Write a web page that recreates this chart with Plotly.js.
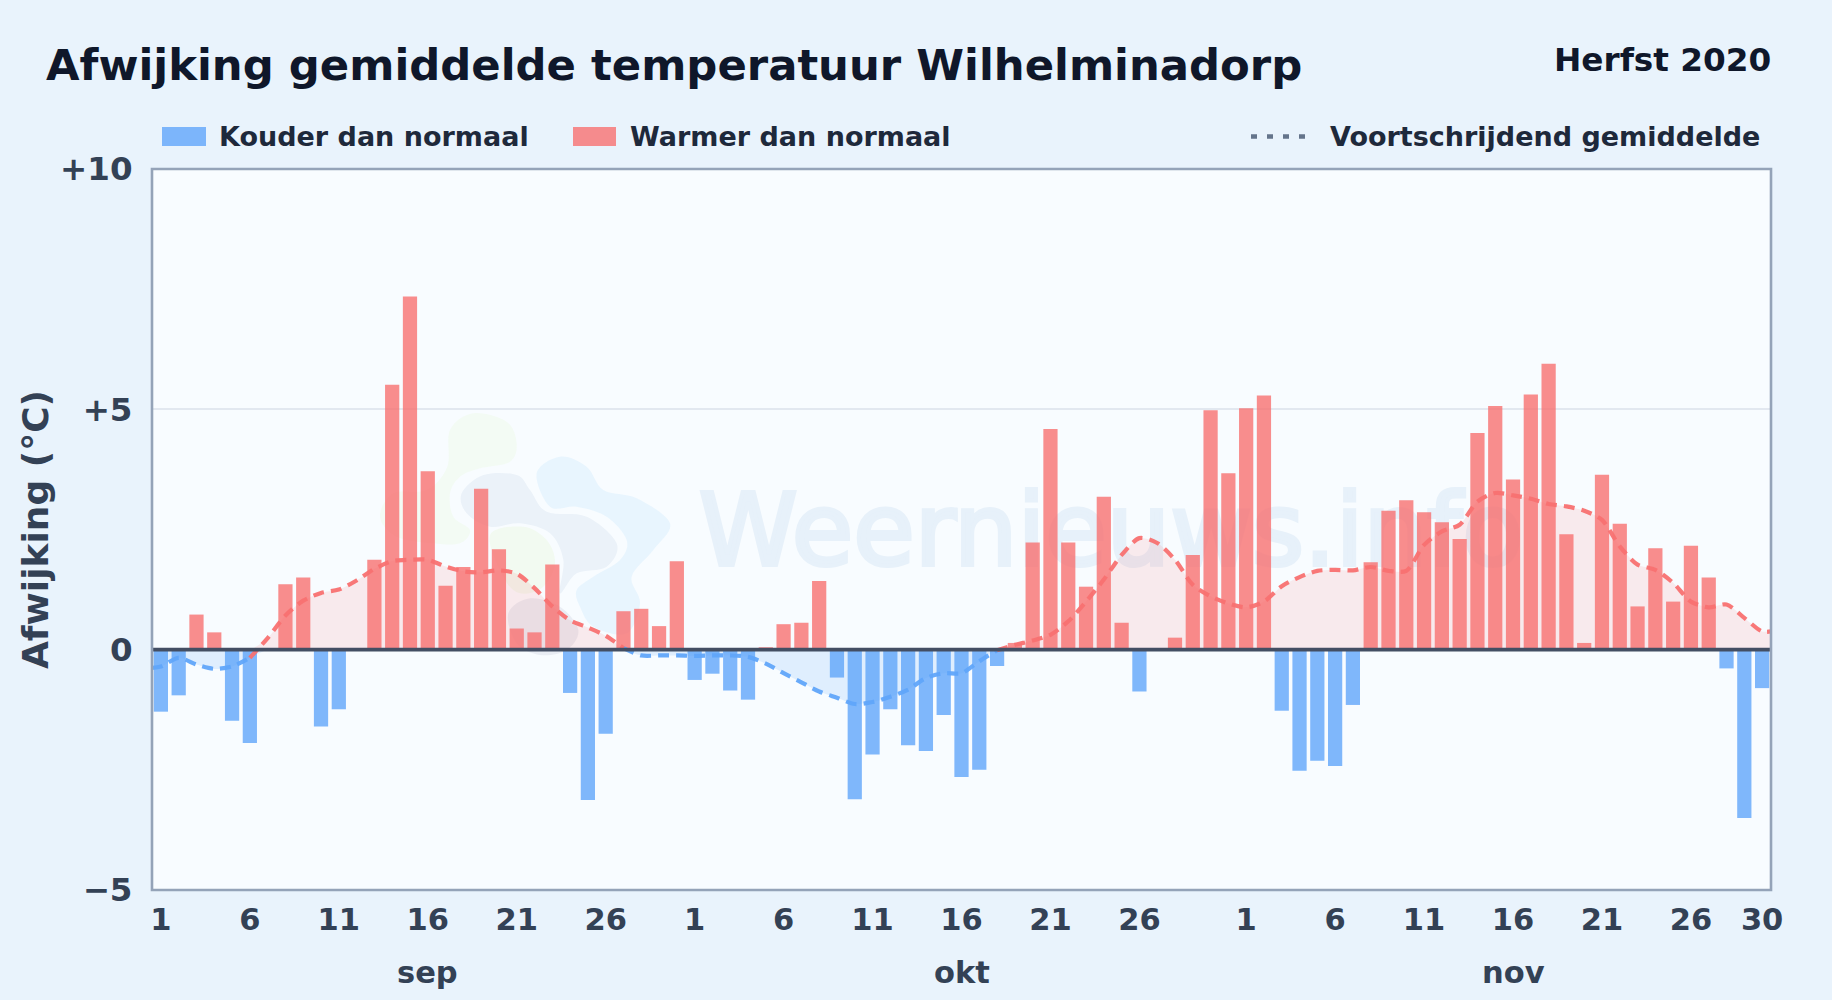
<!DOCTYPE html>
<html><head><meta charset="utf-8">
<script src="https://cdn.plot.ly/plotly-3.0.1.min.js"></script>
<style>html,body{margin:0;padding:0;background:#e9f3fc}</style></head>
<body><div id="chart" style="width:1832px;height:1000px"></div>
<script>
const titleText = 'Afwijking gemiddelde temperatuur Wilhelminadorp';
const seasonText = 'Herfst 2020';
const yTitle = 'Afwijking (°C)';
const coldName = 'Kouder dan normaal';
const warmName = 'Warmer dan normaal';
const maName = 'Voortschrijdend gemiddelde';
const watermark = 'Weernieuws.info';
const months = ['sep','okt','nov'];
const monthPos = [16,46,77];
const xTickVals = [1,6,11,16,21,26,31,36,41,46,51,56,62,67,72,77,82,87,91];
const xTickText = ['1','6','11','16','21','26','1','6','11','16','21','26','1','6','11','16','21','26','30'];
const yTickVals = [-5,0,5,10];
const yTickText = ['−5','0','+5','+10'];

const sep = [-1.29,-0.95,0.73,0.36,-1.48,-1.94,0,1.36,1.5,-1.6,-1.24,0,1.87,5.51,7.35,3.71,1.33,1.72,3.35,2.09,0.44,0.36,1.77,-0.9,-3.13,-1.75,0.8,0.85,0.49,1.84];
const okt = [-0.63,-0.5,-0.85,-1.04,0.05,0.53,0.56,1.43,-0.58,-3.11,-2.18,-1.24,-1.99,-2.11,-1.36,-2.65,-2.5,-0.34,0.14,2.23,4.59,2.23,1.31,3.18,0.56,-0.87,0,0.25,1.97,4.98,3.67];
const nov = [5.02,5.29,-1.27,-2.52,-2.31,-2.42,-1.15,1.82,2.89,3.11,2.86,2.65,2.3,4.51,5.07,3.54,5.31,5.95,2.4,0.14,3.64,2.62,0.9,2.11,1.0,2.16,1.5,-0.39,-3.5,-0.8];

const maX = [0.5,1,2,3,4,5,6,7,8,9,10,11,12,13,14,15,16,17,18,19,20,21,22,23,24,25,26,27,28,29,30,31,32,33,34,35,36,37,38,39,40,41,42,43,44,45,46,47,48,49,50,51,52,53,54,55,56,57,58,59,60,61,62,63,64,65,66,67,68,69,70,71,72,73,74,75,76,77,78,79,80,81,82,83,84,85,86,87,88,89,90,91,91.5];
const maValues = [-0.38,-0.35,-0.17,-0.31,-0.4,-0.35,-0.17,0.24,0.71,1.02,1.18,1.25,1.44,1.68,1.84,1.87,1.87,1.73,1.63,1.61,1.65,1.58,1.28,0.9,0.61,0.46,0.29,0.03,-0.12,-0.12,-0.12,-0.13,-0.12,-0.12,-0.15,-0.29,-0.49,-0.68,-0.87,-1.0,-1.13,-1.09,-0.98,-0.83,-0.59,-0.49,-0.49,-0.24,-0.01,0.1,0.19,0.31,0.59,1.0,1.46,1.97,2.32,2.22,1.87,1.35,1.11,0.96,0.88,1.0,1.32,1.51,1.64,1.66,1.65,1.72,1.64,1.64,2.18,2.46,2.6,3.08,3.26,3.21,3.14,3.03,2.98,2.89,2.7,2.15,1.77,1.66,1.39,1.0,0.88,0.94,0.66,0.38,0.38];

const values = sep.concat(okt, nov);
const days = values.map((_, i) => i + 1);
const coldDays = days.filter(d => values[d-1] < 0);
const warmDays = days.filter(d => values[d-1] > 0);
// each stretch of the line takes the colour of the sign it runs towards
const maWarm = maValues.map((v,i) => (v > 0 || maValues[i+1] > 0) ? v : null);
const maCold = maValues.map((v,i) => (v <= 0 || maValues[i+1] <= 0) ? v : null);

const W = 1832, H = 1000, L = 152, R = 61, T = 169, B = 110;
const pw = x => (x - L) / (W - L - R);
const ph = y => 1 - (y - T) / (H - T - B);

function blob(pts, color) {
  const P = pts.map(p => [pw(360 + p[0] / 3), ph(380 + p[1] / 3)]);
  const n = P.length;
  let d = `M${P[0][0]},${P[0][1]}`;
  for (let i = 0; i < n; i++) {
    const a = P[(i - 1 + n) % n], b = P[i], c = P[(i + 1) % n], e = P[(i + 2) % n];
    d += `C${b[0] + (c[0] - a[0]) / 6},${b[1] + (c[1] - a[1]) / 6} ${c[0] - (e[0] - b[0]) / 6},${c[1] - (e[1] - b[1]) / 6} ${c[0]},${c[1]}`;
  }
  return {type:'path', xref:'paper', yref:'paper', path:d+'Z', fillcolor:color, line:{width:0}, layer:'below'};
}
const blobGreenTop = [[270,150],[340,100],[440,125],[470,190],[450,245],[360,265],[300,290],[270,340],[280,410],[330,450],[300,490],[220,490],[110,470],[60,410],[100,340],[200,330],[262,260]];
const blobCenter = [[305,340],[370,285],[470,285],[510,330],[560,395],[680,410],[770,490],[740,560],[650,580],[600,640],[610,540],[570,460],[480,430],[390,440],[320,400]];
const blobRight = [[530,280],[600,230],[680,260],[730,330],[830,355],[930,430],[880,510],[815,590],[840,670],[800,760],[700,740],[660,680],[650,630],[700,590],[780,540],[800,480],[740,410],[650,380],[570,380]];
const blobGreenLow = [[390,465],[490,440],[560,480],[585,550],[550,620],[480,640],[430,590]];
const blobLow = [[445,700],[510,655],[600,680],[655,750],[620,810],[540,825],[470,790]];

const font = 'DejaVu Sans, sans-serif';
const lineStyle = color => ({color, width:4.2, dash:'11px,7px', shape:'spline', smoothing:0.8});
const traces = [
  {type:'bar', x:coldDays, y:coldDays.map(d=>values[d-1]), width:0.8, name:coldName, marker:{color:'rgba(96,165,250,0.8)',line:{width:0}}, hoverinfo:'x+y'},
  {type:'bar', x:warmDays, y:warmDays.map(d=>values[d-1]), width:0.8, name:warmName, marker:{color:'rgba(248,113,113,0.8)',line:{width:0}}, hoverinfo:'x+y'},
  {type:'scatter', mode:'none', x:maX, y:maValues.map(v=>Math.min(v,0)), fill:'tozeroy', fillcolor:'rgba(96,165,250,0.16)', line:{shape:'spline',smoothing:0.8}, hoverinfo:'skip'},
  {type:'scatter', mode:'none', x:maX, y:maValues.map(v=>Math.max(v,0)), fill:'tozeroy', fillcolor:'rgba(248,113,113,0.13)', line:{shape:'spline',smoothing:0.8}, hoverinfo:'skip'},
  {type:'scatter', mode:'lines', x:maX, y:maCold, name:maName, line:lineStyle('rgba(96,165,250,0.95)'), hoverinfo:'skip'},
  {type:'scatter', mode:'lines', x:maX, y:maWarm, name:maName, line:lineStyle('rgba(248,113,113,0.95)'), hoverinfo:'skip'}
];

const shapes = [
  blob(blobGreenTop,'rgba(163,230,53,0.055)'),
  blob(blobCenter,'rgba(30,80,150,0.06)'),
  blob(blobRight,'rgba(56,170,248,0.08)'),
  blob(blobGreenLow,'rgba(163,230,53,0.07)'),
  blob(blobLow,'rgba(60,70,110,0.08)'),
  {type:'rect', xref:'paper', yref:'paper', x0:pw(594), x1:pw(1628), y0:ph(578), y1:ph(468), line:{width:0}, fillcolor:'rgba(0,0,0,0)', layer:'below',
   label:{text:watermark, textposition:'middle center', font:{family:font,size:100,color:'rgba(59,130,200,0.085)'}}},
  {type:'line', xref:'paper', yref:'y', x0:0, x1:1, y0:0, y1:0, line:{color:'#434e63',width:3.6}, layer:'above'},
  {type:'rect', xref:'paper', yref:'paper', x0:0, x1:1, y0:0, y1:1, fillcolor:'rgba(0,0,0,0)', line:{color:'#94a3b8',width:2.6}, layer:'above'},
  {type:'rect', xref:'paper', yref:'paper', x0:pw(162), x1:pw(206), y0:ph(127), y1:ph(146), fillcolor:'rgba(96,165,250,0.8)', line:{width:0}},
  {type:'rect', xref:'paper', yref:'paper', x0:pw(573), x1:pw(616), y0:ph(127), y1:ph(146), fillcolor:'rgba(248,113,113,0.8)', line:{width:0}},
  {type:'line', xref:'paper', yref:'paper', x0:pw(1251), x1:pw(1309), y0:ph(136.5), y1:ph(136.5), line:{color:'#64748b',width:4.5,dash:'6px,10px'}}
];
const txt = (text,x,y,size,color,anchor) => ({text, xref:'paper', yref:'paper', x:pw(x), y:ph(y), xanchor:anchor, yanchor:'middle', showarrow:false, font:{family:font,size,color,weight:'bold'}});
const annotations = [
  txt(seasonText,1773,60,32.7,'#0f172a','right'),
  txt(coldName,217,136.5,27,'#1e293b','left'),
  txt(warmName,628,136.5,27,'#1e293b','left'),
  txt(maName,1328,136.5,27,'#1e293b','left'),
  ...months.map((m,i)=>({text:m, xref:'x', yref:'paper', x:monthPos[i], y:ph(972), xanchor:'center', yanchor:'middle', showarrow:false, font:{family:font,size:30.5,color:'#334155',weight:'bold'}}))
];
const layout = {
  width:W, height:H, margin:{l:L,r:R,t:T,b:B,pad:0},
  paper_bgcolor:'#e9f3fc', plot_bgcolor:'#f8fcff',
  font:{family:font},
  barmode:'overlay', showlegend:false,
  title:{text:titleText, x:46/W, xanchor:'left', y:1-65/H, yanchor:'middle', font:{family:font,size:43.35,color:'#0f172a',weight:'bold'}},
  xaxis:{range:[0.5,91.5], tickmode:'array', tickvals:xTickVals, ticktext:xTickText, showgrid:false, zeroline:false,
    showline:false, ticks:'outside', ticklen:2.5, tickcolor:'rgba(0,0,0,0)',
    tickfont:{family:font,size:30.5,color:'#334155',weight:'bold'}},
  yaxis:{range:[-5,10], tickmode:'array', tickvals:yTickVals, ticktext:yTickText, showgrid:true, gridcolor:'#e2e8f0', gridwidth:2, zeroline:false,
    showline:false, ticks:'outside', ticklen:12, tickcolor:'rgba(0,0,0,0)',
    tickfont:{family:font,size:32.5,color:'#334155',weight:'bold'},
    title:{text:yTitle, standoff:0, font:{family:font,size:36,color:'#334155',weight:'bold'}}},
  shapes, annotations
};
Plotly.newPlot('chart', traces, layout, {displayModeBar:false, responsive:false}).then(() => {
  // the watermark lettering is heavier than the regular face; thicken it without double-blending the stroke
  document.querySelectorAll('#chart text').forEach(t => {
    if (t.textContent === watermark) {
      t.style.fill = '#3b82c8';
      t.style.fillOpacity = '1';
      t.style.stroke = '#3b82c8';
      t.style.strokeOpacity = '1';
      t.style.strokeWidth = '4px';
      t.style.opacity = '0.085';
    }
  });
});
</script></body></html>
